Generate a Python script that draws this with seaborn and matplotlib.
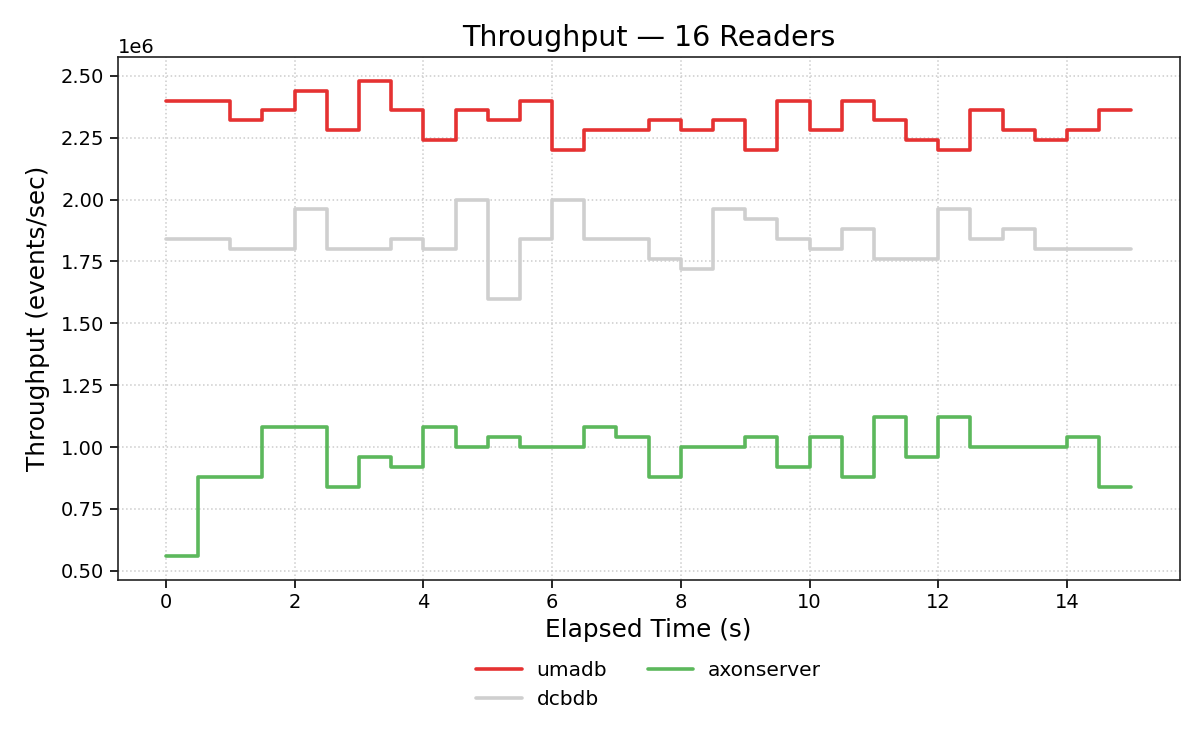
import matplotlib
matplotlib.use('Agg')
import matplotlib.pyplot as plt
import seaborn as sns
import pandas as pd

# elapsed time in seconds, one sample every 0.5 s
elapsed = [i * 0.5 for i in range(31)]

# throughput in millions of events/sec
umadb = [2.40, 2.40, 2.32, 2.36, 2.44, 2.28, 2.48, 2.36, 2.24, 2.36,
         2.32, 2.40, 2.20, 2.28, 2.28, 2.32, 2.28, 2.32, 2.20, 2.40,
         2.28, 2.40, 2.32, 2.24, 2.20, 2.36, 2.28, 2.24, 2.28, 2.36, 2.36]
dcbdb = [1.84, 1.84, 1.80, 1.80, 1.96, 1.80, 1.80, 1.84, 1.80, 2.00,
         1.60, 1.84, 2.00, 1.84, 1.84, 1.76, 1.72, 1.96, 1.92, 1.84,
         1.80, 1.88, 1.76, 1.76, 1.96, 1.84, 1.88, 1.80, 1.80, 1.80, 1.80]
axonserver = [0.56, 0.88, 0.88, 1.08, 1.08, 0.84, 0.96, 0.92, 1.08, 1.00,
              1.04, 1.00, 1.00, 1.08, 1.04, 0.88, 1.00, 1.00, 1.04, 0.92,
              1.04, 0.88, 1.12, 0.96, 1.12, 1.00, 1.00, 1.00, 1.04, 0.84, 0.84]

series = {'umadb': umadb, 'dcbdb': dcbdb, 'axonserver': axonserver}
colors = {'umadb': '#e53232', 'dcbdb': '#cfcfcf', 'axonserver': '#5cb85c'}

rows = []
for name, vals in series.items():
    for t, v in zip(elapsed, vals):
        rows.append({'Elapsed Time (s)': t, 'Throughput': v * 1e6, 'Store': name})
df = pd.DataFrame(rows)

sns.set_style('ticks')
plt.rcParams['font.family'] = ['DejaVu Sans']
plt.rcParams['text.color'] = 'black'
plt.rcParams['axes.labelcolor'] = 'black'
plt.rcParams['xtick.color'] = 'black'
plt.rcParams['ytick.color'] = 'black'

fig, ax = plt.subplots(figsize=(12, 7.5), dpi=100)
sns.lineplot(data=df, x='Elapsed Time (s)', y='Throughput', hue='Store',
             palette=colors, drawstyle='steps-post', linewidth=2.6,
             ax=ax, estimator=None)

ax.grid(True, linestyle=':', color='#cccccc', linewidth=1.1)
ax.set_title('Throughput — 16 Readers', fontsize=20.5, color='black', pad=8)
ax.set_xlabel('Elapsed Time (s)', fontsize=17.8)
ax.set_ylabel('Throughput (events/sec)', fontsize=17.8, labelpad=8)
ax.tick_params(labelsize=14, length=6, width=1.2)
ax.yaxis.get_offset_text().set_fontsize(14)
for s in ax.spines.values():
    s.set_color('#222222')
    s.set_linewidth(1.2)

ax.legend(loc='upper center', bbox_to_anchor=(0.5, -0.12), ncol=2,
          frameon=False, fontsize=14.5, handlelength=2.25, handletextpad=0.75,
          columnspacing=2.0)

plt.subplots_adjust(left=0.098, right=0.983, top=0.924, bottom=0.227)
plt.savefig('out.png', dpi=100)
